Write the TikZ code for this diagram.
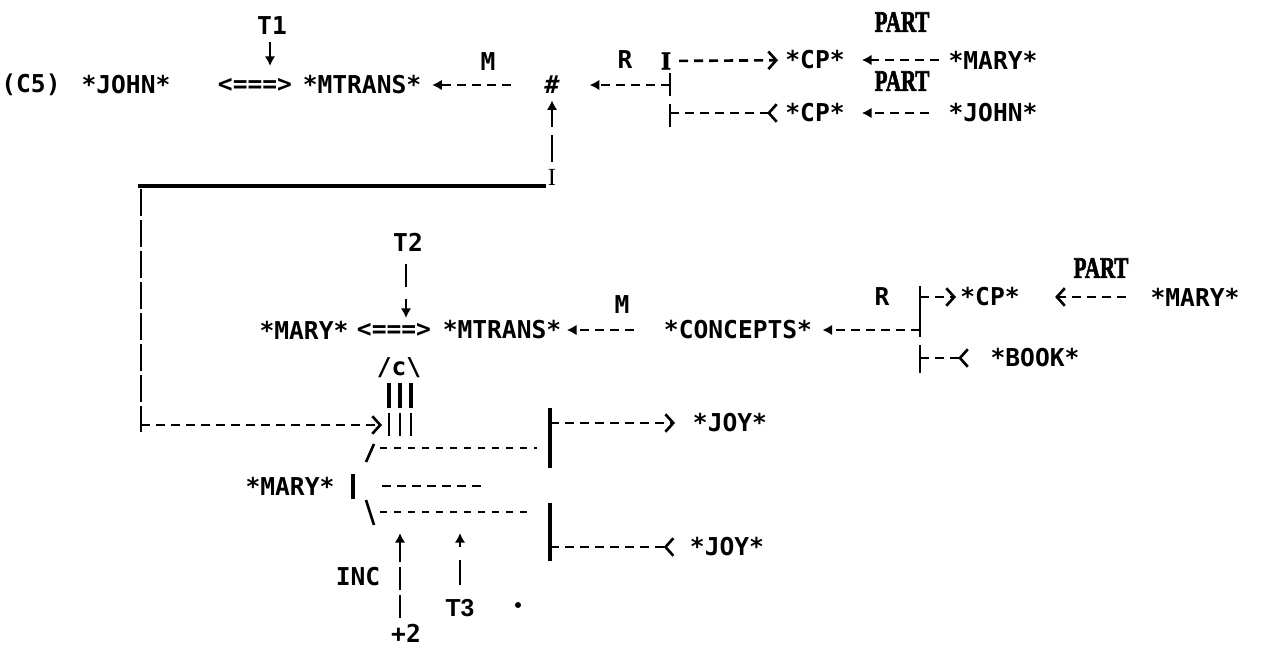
\documentclass[tikz,border=0pt]{standalone}
\usepackage{fontspec}
\setmainfont{DejaVu Sans Mono}
\newfontfamily\serifb{Liberation Serif}
\newfontfamily\partfont{Liberation Serif}[UprightFont=*-Bold, FakeBold=2.5]
\newfontfamily\sansf{Liberation Sans}
\usetikzlibrary{arrows.meta}
\begin{document}
\begin{tikzpicture}[x=0.02cm, y=-0.02cm,
  txt/.style={inner sep=0pt, font=\bfseries\fontsize{14}{16}\selectfont},
  part/.style={inner sep=0pt, font=\partfont\fontsize{17}{19}\selectfont},
  dsh/.style={line width=1.5pt, dash pattern=on 0.18cm off 0.12cm},
  fine/.style={line width=0.7pt, dash pattern=on 0.14cm off 0.14cm},
  larr/.style={-{Latex[length=5.5pt,width=6pt]}},
  barb/.style={-{Straight Barb[length=4.5pt,width=10pt,line width=1.5pt]}},
  rbarb/.style={-{Straight Barb[reversed,length=4.5pt,width=10pt,line width=1.5pt]}},
  vl/.style={line width=1.5pt},
  heavybar/.style={line width=2pt},
]
\useasboundingbox (0,0) rectangle (1261,652);

% ---------- top block ----------
\node[txt] (c5) at (31,85) {(C5)};
\node[txt] (john1) at (126,85) {*JOHN*};
\node[txt] (dbl1) at (255,85) {<===>};
\node[txt] (mtr1) at (362,85) {*MTRANS*};
\node[txt] (m1) at (488,62) {M};
\node[txt] (hash) at (552,85) {\itshape\#};
\node[txt] (t1) at (272,26) {T1};
\coordinate (t1tip) at (270,66);
\draw[vl,larr,shorten <=4pt] (t1.south -| t1tip) -- (t1tip);
\draw[dsh,larr,shorten <=19pt,shorten >=6pt] (hash) -- (mtr1);

\node[txt] (r1) at (625,60) {R};
\node[part] (i1) at (666,61) {\scalebox{0.85}{I}};
\node[txt] (cp1) at (815,60) {*CP*};
\node[txt] (mary1) at (993,60) {*MARY*};
\node[part] (part1) at (902,22) {\scalebox{0.7}[1]{PART}};
\draw[dsh,barb,shorten <=4.5pt,shorten >=4pt] (i1) -- (cp1);
\draw[dsh,larr,shorten <=5pt,shorten >=9.6pt] (mary1) -- (cp1);

\node[part] (part2) at (902,81) {\scalebox{0.7}[1]{PART}};
\node[txt] (cp2) at (815,113) {*CP*};
\node[txt] (john2) at (993,113) {*JOHN*};
\coordinate (bt) at (670,73);
\coordinate (bm) at (670,85);
\coordinate (bb) at (670,96);
\draw[vl] (bt) -- (bb);
\draw[dsh,larr,shorten >=17pt] (bm) -- (hash);
\coordinate (lt) at (670,104);
\coordinate (lm) at (670,113);
\coordinate (lb) at (670,127);
\draw[line width=0.9pt] (lt) -- (lb);
\draw[dsh,rbarb,shorten >=4pt] (lm) -- (cp2);
\draw[dsh,larr,shorten <=11pt,shorten >=9.6pt] (john2) -- (cp2);

% vertical chain under #
\node[inner sep=0pt, font=\serifb\fontsize{14}{16}\selectfont] (ib) at (552,177) {I};
\draw[vl,larr,shorten <=4pt,shorten >=3.5pt,dash pattern=on 0.54cm off 0.16cm] (ib) -- (hash);
\coordinate (tl) at (138,186);
\coordinate (tr) at (546,186);
\draw[line width=2.5pt] (tl) -- (tr);
\coordinate (lv1) at (141,189);
\coordinate (lv2) at (141,432);
\draw[line width=1pt, dash pattern=on 0.54cm off 0.08cm] (lv1) -- (lv2);

% ---------- middle block ----------
\node[txt] (t2) at (408,242) {T2};
\coordinate (t2tip) at (406,318);
\draw[vl,larr,shorten <=7pt,dash pattern=on 0.46cm off 0.24cm] (t2.south -| t2tip) -- (t2tip);
\node[txt] (mary2) at (304,330) {*MARY*};
\node[txt] (dbl2) at (394,330) {<===>};
\node[txt] (mtr2) at (502,330) {*MTRANS*};
\node[txt] (m2) at (622,305) {M};
\node[txt] (conc) at (738,330) {*CONCEPTS*};
\draw[dsh,larr,shorten <=17pt,shorten >=3pt] (conc) -- (mtr2);
\node[txt] (r2) at (882,297) {R};
\coordinate (b2t) at (920,286);
\coordinate (b2r) at (920,297);
\coordinate (b2m) at (920,330);
\coordinate (b2b) at (920,337);
\draw[vl] (b2t) -- (b2b);
\draw[dsh,larr,shorten >=5.7pt] (b2m) -- (conc);
\node[txt] (cp3) at (990,297) {*CP*};
\draw[dsh,barb,shorten >=2.3pt] (b2r) -- (cp3);
\node[txt] (mary3) at (1195,297) {*MARY*};
\draw[dsh,barb,shorten <=13.6pt,shorten >=20pt] (mary3) -- (cp3);
\node[part] (part3) at (1101,268) {\scalebox{0.7}[1]{PART}};
\coordinate (b3t) at (920,345);
\coordinate (b3m) at (920,358);
\coordinate (b3b) at (920,373);
\draw[vl] (b3t) -- (b3b);
\node[txt] (book) at (1035,358) {*BOOK*};
\draw[dsh,rbarb,shorten >=12pt] (b3m) -- (book);

% causal link
\node[txt] (caus) at (399,368) {/c\textbackslash};
\foreach \x in {389,400,411} {
  \draw[line width=2.2pt] (\x,383) -- (\x,408);
  \draw[line width=1.5pt] (\x,413) -- (\x,436);
}
\coordinate (lvd) at (141,425);
\coordinate (cin) at (382,425);
\draw[dsh,barb] (lvd) -- (cin);

% ---------- lower block ----------
\coordinate (rb1t) at (550,408);
\coordinate (rb1m) at (550,423);
\coordinate (rb1b) at (550,468);
\draw[heavybar] (rb1t) -- (rb1b);
\node[txt] (joy1) at (730,423) {*JOY*};
\draw[dsh,barb,shorten >=10pt] (rb1m) -- (joy1);

\coordinate (sl1) at (366,462);
\coordinate (sl2) at (374,444);
\draw[vl] (sl1) -- (sl2);
\coordinate (f1a) at (380,448);
\coordinate (f1b) at (537,448);
\draw[fine] (f1a) -- (f1b);

\node[txt] (mary4) at (290,486) {*MARY*};
\coordinate (mb1) at (353,474);
\coordinate (mb2) at (353,499);
\draw[heavybar] (mb1) -- (mb2);
\coordinate (md1) at (382,486);
\coordinate (md2) at (482,486);
\draw[dsh] (md1) -- (md2);

\coordinate (bs1) at (366,500);
\coordinate (bs2) at (374,525);
\draw[vl] (bs1) -- (bs2);
\coordinate (f2a) at (380,512);
\coordinate (f2b) at (530,512);
\draw[fine] (f2a) -- (f2b);

\coordinate (rb2t) at (550,503);
\coordinate (rb2m) at (550,547);
\coordinate (rb2b) at (550,561);
\draw[heavybar] (rb2t) -- (rb2b);
\node[txt] (joy2) at (727,547) {*JOY*};
\draw[dsh,rbarb,shorten >=8.5pt] (rb2m) -- (joy2);

\node[txt] (inc) at (358,577) {INC};
\node[txt] (p2) at (406,633) {+2};
\coordinate (inctip) at (400,533);
\draw[vl,larr,shorten <=3pt,dash pattern=on 0.46cm off 0.1cm] (p2.north -| inctip) -- (inctip);
\node[inner sep=0pt, font=\sansf\bfseries\fontsize{14}{16}\selectfont] (t3) at (460,608) {T3};
\coordinate (t3tip) at (460,533);
\draw[vl,larr,shorten <=8pt,dash pattern=on 0.5cm off 0.26cm] (t3) -- (t3tip);
\node[circle, fill, inner sep=0pt, minimum size=0.12cm] (dot) at (518,605) {};
\end{tikzpicture}
\end{document}
